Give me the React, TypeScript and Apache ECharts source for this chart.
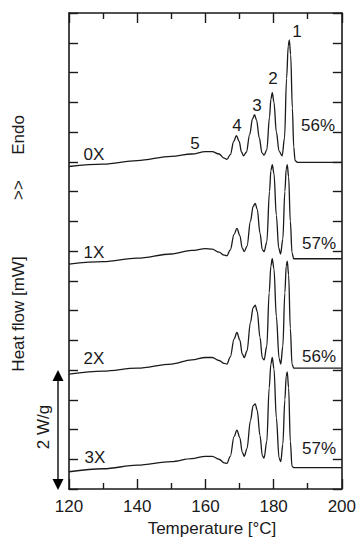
import React, { useEffect, useRef } from "react";
import * as echarts from "echarts";

const xTickLabels = [120, 140, 160, 180, 200];

const curve0X: [number, number][] = [
  [120, 5.42], [130, 5.46], [140, 5.52], [150, 5.59], [156, 5.63], [160, 5.67], [162, 5.67], [164, 5.63],
  [165.5, 5.56], [166.3, 5.54], [167.3, 5.62], [168.3, 5.84], [169.1, 5.94], [169.9, 5.84], [170.6, 5.66],
  [171.2, 5.6], [172, 5.66], [173, 5.96], [173.8, 6.22], [174.4, 6.29], [175, 6.2], [175.8, 5.9], [176.6, 5.65],
  [177.2, 5.61], [178, 5.7], [178.8, 6.25], [179.2, 6.55], [179.6, 6.66], [180.1, 6.5], [180.8, 6.0], [181.6, 5.68],
  [182.5, 5.6], [183.2, 5.9], [183.8, 6.9], [184.3, 7.45], [184.6, 7.55], [185.0, 7.3], [185.5, 6.4], [185.9, 5.75],
  [186.3, 5.52], [187, 5.49], [200, 5.49],
];

const curve1X: [number, number][] = [
  [120, 3.78], [130, 3.82], [140, 3.88], [150, 3.95], [156, 4.01], [160, 4.04], [162, 4.03], [164, 3.98],
  [165.5, 3.93], [166.3, 3.92], [167.3, 4.02], [168.4, 4.28], [169.25, 4.38], [170.1, 4.26], [170.8, 4.05],
  [171.4, 3.99], [172.2, 4.08], [173.2, 4.5], [174, 4.75], [174.6, 4.8], [175.2, 4.7], [176, 4.3], [176.7, 4.02],
  [177.2, 3.99], [178, 4.15], [178.8, 5.0], [179.2, 5.35], [179.6, 5.45], [180.1, 5.3], [180.8, 4.6], [181.5, 4.05],
  [182.05, 3.95], [182.7, 4.2], [183.3, 5.0], [183.7, 5.38], [184.0, 5.45], [184.4, 5.25], [184.9, 4.5], [185.4, 3.97],
  [185.9, 3.87], [200, 3.87],
];

const curve2X: [number, number][] = [
  [120, 1.93], [130, 1.98], [140, 2.03], [150, 2.1], [156, 2.17], [160, 2.21], [162, 2.21], [164, 2.16],
  [165.5, 2.11], [166.3, 2.1], [167.3, 2.22], [168.4, 2.52], [169.25, 2.63], [170.1, 2.5], [170.8, 2.27],
  [171.4, 2.21], [172.2, 2.32], [173.2, 2.8], [174, 3.05], [174.6, 3.09], [175.2, 2.98], [176, 2.55], [176.7, 2.2],
  [177.2, 2.17], [178, 2.4], [178.7, 3.3], [179.2, 3.75], [179.6, 3.87], [180.1, 3.7], [180.8, 2.9], [181.6, 2.2],
  [182.1, 2.1], [182.7, 2.4], [183.3, 3.3], [183.7, 3.75], [184.0, 3.83], [184.4, 3.6], [184.9, 2.7], [185.4, 2.1],
  [185.9, 2.03], [200, 2.03],
];

const curve3X: [number, number][] = [
  [120, 0.29], [130, 0.34], [140, 0.4], [150, 0.46], [156, 0.51], [160, 0.55], [162, 0.55], [164, 0.5],
  [165.5, 0.44], [166.3, 0.43], [167.3, 0.55], [168.4, 0.88], [169.25, 0.99], [170.1, 0.86], [170.8, 0.62],
  [171.4, 0.55], [172.2, 0.68], [173.2, 1.15], [174, 1.4], [174.6, 1.43], [175.2, 1.32], [176, 0.9], [176.7, 0.56],
  [177.2, 0.52], [178, 0.8], [178.7, 1.7], [179.2, 2.1], [179.6, 2.21], [180.1, 2.02], [180.8, 1.2], [181.6, 0.52],
  [182.1, 0.46], [182.7, 0.75], [183.3, 1.5], [183.7, 1.9], [184.0, 1.97], [184.4, 1.7], [184.9, 0.8], [185.4, 0.38],
  [185.9, 0.36], [200, 0.36],
];

const curveNames = ["0X", "1X", "2X", "3X"];
const crystallinity = ["56%", "57%", "56%", "57%"];
const peakNames = ["1", "2", "3", "4", "5"];
const scaleBarValue = 2; // W/g

const FONT = "'Liberation Sans', Arial, Helvetica, sans-serif";
const INK = "#1a1a1a";

export default function App() {
  const ref = useRef<HTMLDivElement>(null);

  useEffect(() => {
    document.body.style.margin = "0";
    document.body.style.overflow = "hidden";
    if (!ref.current) return;
    const chart = echarts.init(ref.current, null, { renderer: "svg" });

    const axisCommon = {
      axisLine: { show: true, onZero: false, lineStyle: { color: INK, width: 1.6 } },
      splitLine: { show: false },
    };

    const mkText = (text: string, x: number, y: number, size = 17, rotation = 0) => ({
      type: "text",
      x,
      y,
      rotation,
      style: {
        text,
        x: 0,
        y: 0,
        fill: INK,
        font: `${size}px ${FONT}`,
        align: "center",
        verticalAlign: "middle",
      },
    });

    const labelPos: [number, number][] = [
      [297, 31], [273, 78], [257, 105], [237, 125], [195, 143],
    ];
    const crystPos: [number, number][] = [[318, 125], [319, 243], [319, 356], [319, 448]];
    const namePos: [number, number][] = [[94, 154], [94, 252], [94, 358], [95, 457]];

    const texts: any[] = [];
    peakNames.forEach((t, i) => texts.push(mkText(t, labelPos[i][0], labelPos[i][1])));
    crystallinity.forEach((t, i) => texts.push(mkText(t, crystPos[i][0], crystPos[i][1])));
    curveNames.forEach((t, i) => texts.push(mkText(t, namePos[i][0], namePos[i][1])));
    texts.push(mkText("Temperature [°C]", 212, 528, 17));
    texts.push(mkText("Heat flow [mW]", 18, 314, 17, Math.PI / 2));
    texts.push(mkText(">>", 18, 190, 17, Math.PI / 2));
    texts.push(mkText("Endo", 18, 135, 17, Math.PI / 2));
    texts.push(mkText("2 W/g", 43, 427, 17, Math.PI / 2));

    const series = [curve0X, curve1X, curve2X, curve3X].map((d, i) => ({
      type: "line",
      name: curveNames[i],
      data: d,
      showSymbol: false,
      smooth: 0.35,
      smoothMonotone: "x",
      lineStyle: { color: INK, width: 1.3 },
      xAxisIndex: 0,
      yAxisIndex: 0,
    }));

    chart.setOption({
      animation: false,
      grid: { left: 69, right: 15, top: 13, bottom: 49, containLabel: false },
      xAxis: [
        {
          type: "value", position: "bottom", min: 120, max: 200, interval: 20,
          ...axisCommon,
          axisTick: { show: true, inside: true, length: 10, lineStyle: { color: INK, width: 1.4 } },
          minorTick: { show: true, splitNumber: 2, length: 6, lineStyle: { color: INK, width: 1.4 } },
          axisLabel: {
            show: true, margin: 9, fontSize: 17, color: INK, fontFamily: FONT,
            formatter: (v: number) => (xTickLabels.includes(v) ? String(v) : ""),
          },
        },
        {
          type: "value", position: "top", min: 120, max: 200, interval: 20,
          ...axisCommon,
          axisTick: { show: true, inside: true, length: 10, lineStyle: { color: INK, width: 1.4 } },
          minorTick: { show: true, splitNumber: 2, length: 6, lineStyle: { color: INK, width: 1.4 } },
          axisLabel: { show: false },
        },
      ],
      yAxis: [
        {
          type: "value", position: "left", min: 0, max: 8, interval: 0.5,
          ...axisCommon,
          axisTick: { show: true, inside: true, length: 9, lineStyle: { color: INK, width: 1.4 } },
          axisLabel: { show: false },
        },
        {
          type: "value", position: "right", min: 0, max: 8, interval: 0.5,
          ...axisCommon,
          axisTick: { show: true, inside: true, length: 9, lineStyle: { color: INK, width: 1.4 } },
          axisLabel: { show: false },
        },
      ],
      series,
    });

    // scale bar arrow (2 W/g), positioned through the y-axis scale
    const p0 = chart.convertToPixel({ gridIndex: 0 }, [120, 0]) as number[];
    const p1 = chart.convertToPixel({ gridIndex: 0 }, [120, scaleBarValue]) as number[];
    const ax = p0[0] - 11;
    const yb = p0[1] + 1;
    const yt = p1[1];
    const head = 11;
    const hw = 5.5;
    const arrow = [
      { type: "line", shape: { x1: ax, y1: yt + head - 1, x2: ax, y2: yb - head + 1 }, style: { stroke: INK, lineWidth: 1.5 } },
      { type: "polygon", shape: { points: [[ax, yt], [ax - hw, yt + head], [ax + hw, yt + head]] }, style: { fill: "#000" } },
      { type: "polygon", shape: { points: [[ax, yb], [ax - hw, yb - head], [ax + hw, yb - head]] }, style: { fill: "#000" } },
    ];

    chart.setOption({ graphic: [...texts, ...arrow] });

    return () => chart.dispose();
  }, []);

  return <div ref={ref} style={{ width: 359, height: 538 }} />;
}
